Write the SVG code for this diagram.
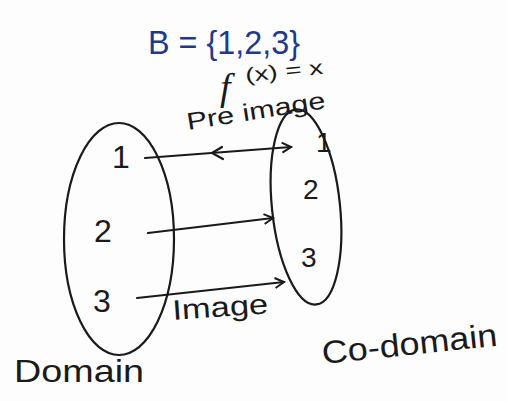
<svg xmlns="http://www.w3.org/2000/svg" width="507" height="401" viewBox="0 0 507 401">
<style>
.t{font-family:"Liberation Sans","DejaVu Sans",sans-serif;fill:#1a1a1a}
.ln{fill:none;stroke:#1a1a1a;stroke-width:2.2;stroke-linecap:round}
</style>
<defs>
<marker id="ah" markerWidth="12" markerHeight="12" refX="10" refY="6" orient="auto" markerUnits="userSpaceOnUse">
<path d="M1,1 L10,6 L1,11" fill="none" stroke="#1a1a1a" stroke-width="2"/>
</marker>
</defs>
<rect width="507" height="401" fill="#fdfdfd"/>
<text class="t" x="148" y="54" font-size="34" textLength="152" lengthAdjust="spacingAndGlyphs" style="fill:#1f3a8a">B = {1,2,3}</text>
<text x="220" y="100" font-size="38" font-style="italic" style="font-family:'Liberation Serif',serif;fill:#1a1a1a">f</text>
<text class="t" x="246" y="82" font-size="20" textLength="78" lengthAdjust="spacingAndGlyphs" transform="rotate(-6 246 82)">(x) = x</text>
<g id="domain">
<ellipse class="ln" cx="119" cy="239" rx="55" ry="116"/>
<text class="t" x="112" y="168" font-size="32">1</text>
<text class="t" x="94" y="242" font-size="32">2</text>
<text class="t" x="93" y="312" font-size="32">3</text>
<text class="t" x="14" y="382" font-size="32" textLength="130" lengthAdjust="spacingAndGlyphs">Domain</text>
</g>
<g id="codomain">
<ellipse class="ln" cx="306" cy="207" rx="34" ry="98" transform="rotate(-6 306 207)"/>
<text class="t" x="316" y="152" font-size="28">1</text>
<text class="t" x="303" y="199" font-size="28">2</text>
<text class="t" x="301" y="267" font-size="28">3</text>
<text class="t" x="323" y="364" font-size="32" textLength="176" lengthAdjust="spacingAndGlyphs" transform="rotate(-6 323 364)">Co-domain</text>
</g>
<g id="connectors">
<line class="ln" x1="145" y1="158" x2="291" y2="147" marker-end="url(#ah)"/>
<path class="ln" d="M222,147 L212,153 L223,159"/>
<line class="ln" x1="148" y1="233" x2="273" y2="218" marker-end="url(#ah)"/>
<line class="ln" x1="137" y1="298" x2="284" y2="282" marker-end="url(#ah)"/>
<text class="t" x="188" y="130" font-size="24" textLength="140" lengthAdjust="spacingAndGlyphs" transform="rotate(-9 188 130)">Pre image</text>
<text class="t" x="173" y="320" font-size="28" textLength="96" lengthAdjust="spacingAndGlyphs" transform="rotate(-4 173 320)">Image</text>
</g>
</svg>
